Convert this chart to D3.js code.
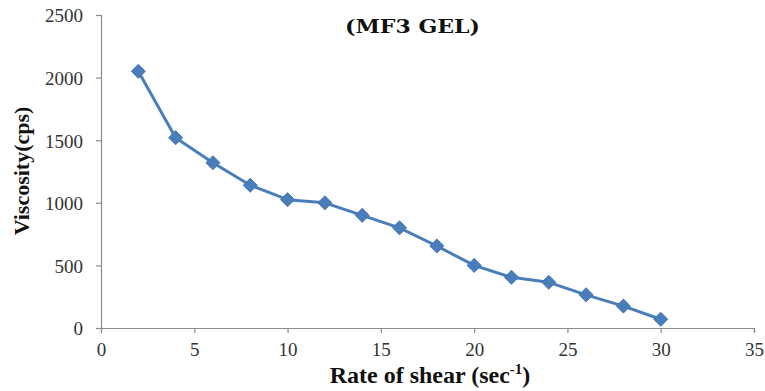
<!DOCTYPE html>
<html>
<head>
<meta charset="utf-8">
<script src="https://cdn.jsdelivr.net/npm/d3@7"></script>
<style>
  html, body { margin: 0; padding: 0; background: #fff; }
  svg { display: block; }
</style>
</head>
<body>
<svg id="chart" width="765" height="391"></svg>
<script>
// Shear rate (sec^-1) and measured viscosity (cps) for the MF3 gel
const shearRate = [2, 4, 6, 8, 10, 12, 14, 16, 18, 20, 22, 24, 26, 28, 30];
const viscosity = [2050, 1520, 1320, 1140, 1025, 1000, 900, 800, 655, 500, 405, 365, 265, 175, 70];
const xTicks = [0, 5, 10, 15, 20, 25, 30, 35];
const yTicks = [0, 500, 1000, 1500, 2000, 2500];
const chartTitle = "(MF3 GEL)";
const xTitle = "Rate of shear (sec";
const yTitle = "Viscosity(cps)";

const svg = d3.select("#chart");
const margin = { left: 101, right: 11, top: 15, bottom: 63 };
const W = 765, H = 391;

const x = d3.scaleLinear().domain([0, 35]).range([margin.left, W - margin.right]);
const y = d3.scaleLinear().domain([0, 2500]).range([H - margin.bottom, margin.top]);

const axisColor = "#8a8a8a";
const serif = "'Liberation Serif', 'Times New Roman', serif";

// x axis
const gx = svg.append("g")
  .attr("transform", `translate(0,${y(0)})`)
  .call(d3.axisBottom(x).tickValues(xTicks).tickSize(5).tickPadding(10).tickFormat(d3.format("d")));
// y axis
const gy = svg.append("g")
  .attr("transform", `translate(${x(0)},0)`)
  .call(d3.axisLeft(y).tickValues(yTicks).tickSize(5).tickPadding(13).tickFormat(d3.format("d")));

[gx, gy].forEach(g => {
  g.select(".domain").attr("stroke", axisColor).attr("stroke-width", 1.2);
  g.selectAll(".tick line").attr("stroke", axisColor).attr("stroke-width", 1.2);
  g.selectAll(".tick text")
    .attr("fill", "#333")
    .style("font-family", serif)
    .style("font-size", "19px");
});
gy.selectAll(".tick text").attr("dy", "0.36em");

// data line
const line = d3.line()
  .x((d, i) => x(shearRate[i]))
  .y(d => y(d));

svg.append("path")
  .datum(viscosity)
  .attr("fill", "none")
  .attr("stroke", "#4A7EBB")
  .attr("stroke-width", 3)
  .attr("stroke-linejoin", "round")
  .attr("d", line);

// diamond markers (squares turned 45 degrees)
svg.append("g")
  .selectAll("path")
  .data(viscosity)
  .join("path")
  .attr("d", d3.symbol().type(d3.symbolSquare).size(100))
  .attr("transform", (d, i) => `translate(${x(shearRate[i])},${y(d)}) rotate(45)`)
  .attr("fill", "#4A7EBB")
  .attr("stroke", "#3F72AE")
  .attr("stroke-width", 0.8);

// chart title
svg.append("text")
  .attr("x", 345)
  .attr("y", 33)
  .attr("textLength", 135)
  .attr("lengthAdjust", "spacingAndGlyphs")
  .style("font-family", "'DejaVu Serif', serif")
  .style("font-weight", "bold")
  .style("font-size", "18px")
  .attr("fill", "#111")
  .text(chartTitle);

// x axis title with superscript exponent
const xt = svg.append("text")
  .attr("x", 430)
  .attr("y", 383)
  .attr("text-anchor", "middle")
  .style("font-family", serif)
  .style("font-weight", "bold")
  .style("font-size", "24px")
  .attr("fill", "#111");
xt.append("tspan").text(xTitle);
xt.append("tspan").attr("dy", -9).style("font-size", "15px").text("-1");
xt.append("tspan").attr("dy", 9).text(")");

// y axis title
svg.append("text")
  .attr("transform", `translate(29,171) rotate(-90)`)
  .attr("text-anchor", "middle")
  .style("font-family", serif)
  .style("font-weight", "bold")
  .style("font-size", "22px")
  .attr("fill", "#111")
  .text(yTitle);
</script>
</body>
</html>
